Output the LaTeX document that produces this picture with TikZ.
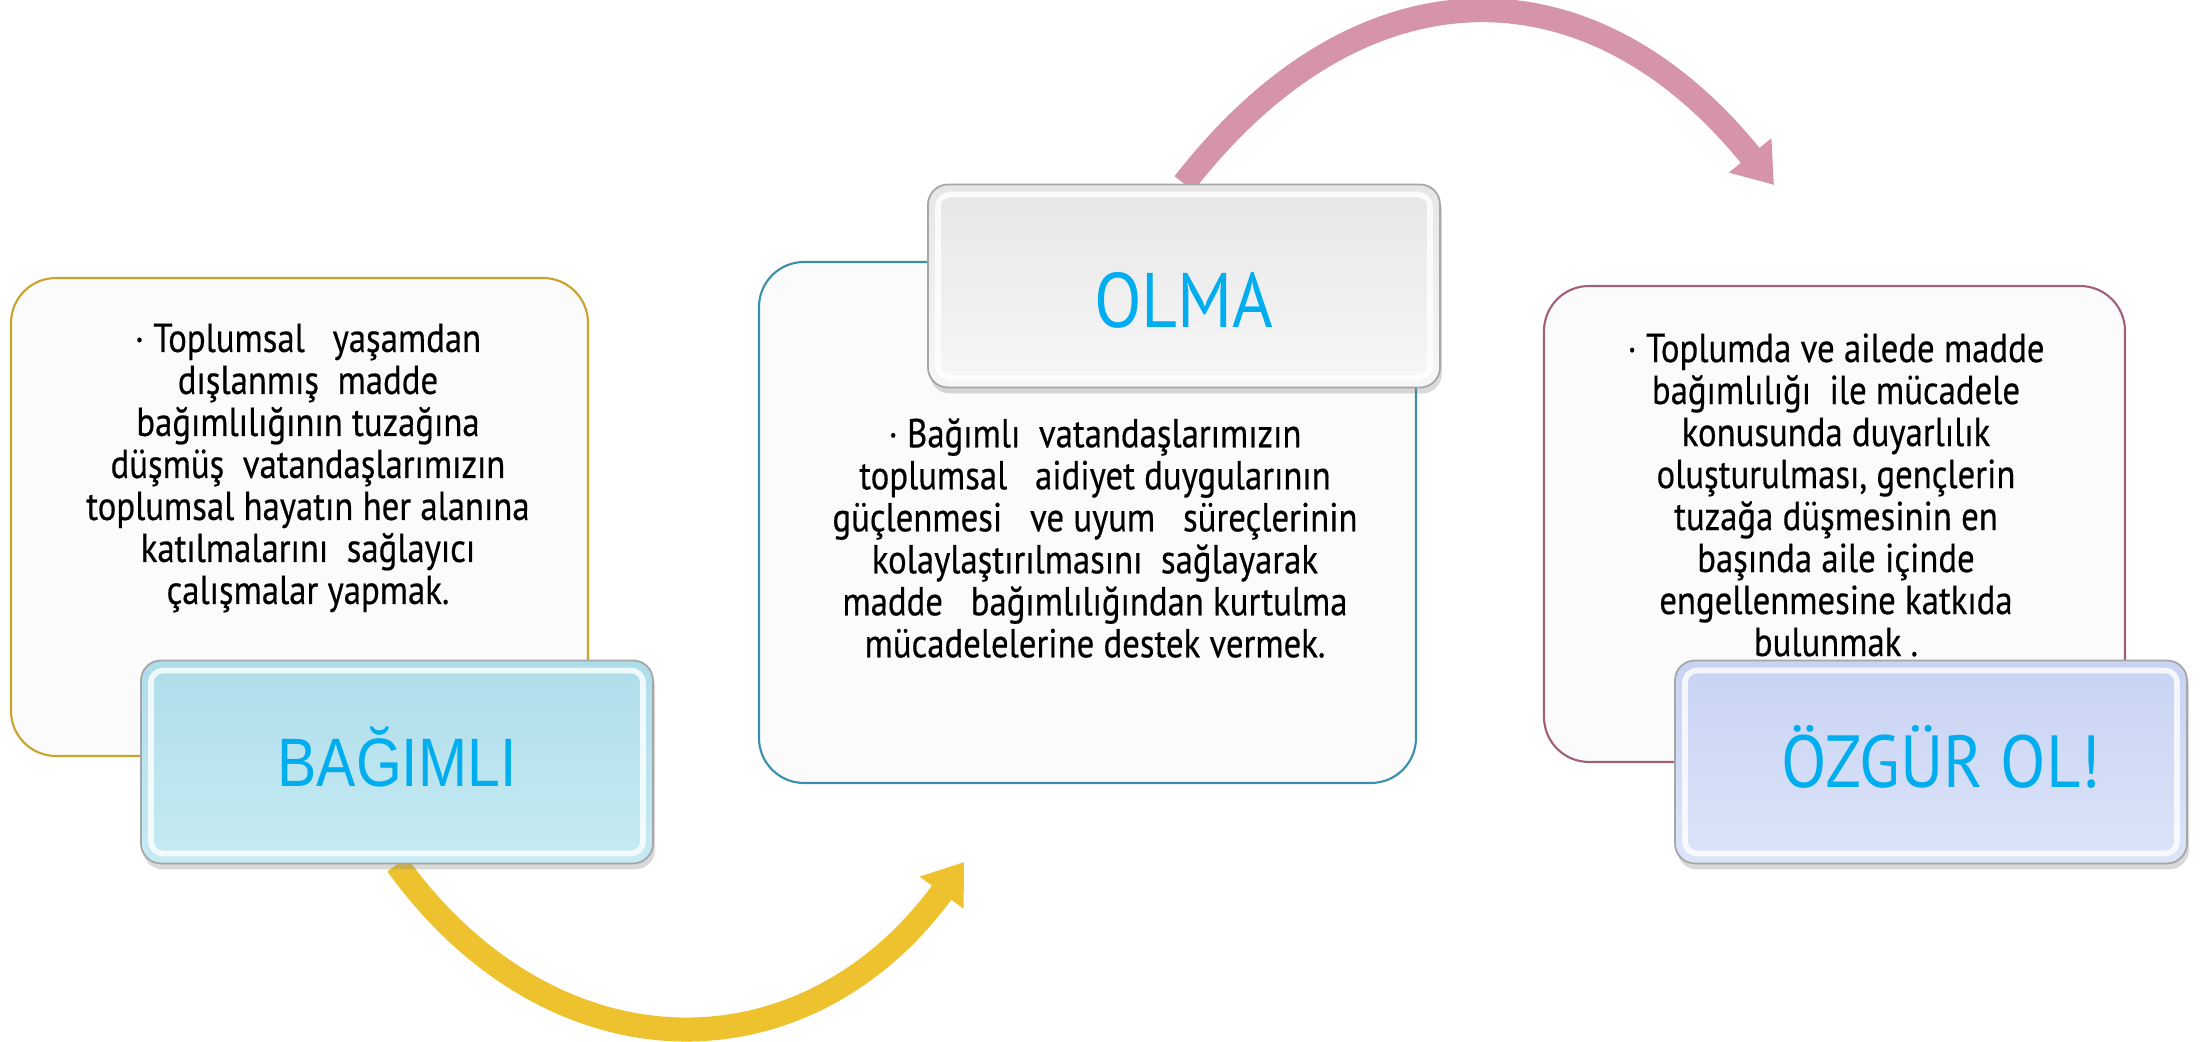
\documentclass[tikz,border=0pt]{standalone}
\usepackage{fontspec}
\setmainfont{PT Sans}
\newfontfamily\bodyfont[FakeStretch=0.86,FakeBold=0.4]{PT Sans}
\newfontfamily\capsfont[FakeStretch=0.86]{Liberation Sans}
\newfontfamily\tagfont[FakeStretch=0.9]{PT Sans}
\usetikzlibrary{arrows.meta,shadows}

\definecolor{goldline}{HTML}{C9A42C}
\definecolor{tealline}{HTML}{3A90AA}
\definecolor{mauveline}{HTML}{A45E7C}
\definecolor{panelfill}{HTML}{FBFBFB}
\definecolor{tagblue}{HTML}{00AEEF}
\definecolor{arrowyellow}{HTML}{EEC12E}
\definecolor{arrowpink}{HTML}{D594A9}
\definecolor{waterA}{HTML}{AEDDEA}
\definecolor{waterB}{HTML}{C6EBF3}
\definecolor{marbleA}{HTML}{E6E6E6}
\definecolor{marbleB}{HTML}{F7F7F7}
\definecolor{pastelA}{HTML}{C8D3F3}
\definecolor{pastelB}{HTML}{DCE4F8}

\pgfdeclarelayer{background}
\pgfsetlayers{background,main}

\begin{document}
\begin{tikzpicture}[
  panel/.style={rectangle, draw, line width=0.6pt, fill=panelfill, rounded corners=0.45cm},
  tag/.style={rectangle, draw=gray!70, line width=0.5pt, rounded corners=0.2cm,
    minimum width=5.12cm, minimum height=2.03cm, inner sep=0pt, text=tagblue,
    drop shadow={shadow xshift=0.02cm, shadow yshift=-0.06cm, opacity=0.3},
    path picture={\draw[white, opacity=0.8, line width=1.6pt, rounded corners=0.12cm]
      ([shift={(0.1,0.1)}]path picture bounding box.south west) rectangle
      ([shift={(-0.1,-0.1)}]path picture bounding box.north east);}},
  bodytext/.style={align=center, inner sep=0pt, font=\bodyfont\fontsize{11.5}{11.95}\selectfont},
  bend arrow/.style={line width=0.24cm, -{Triangle[width=0.52cm,length=0.38cm]}}
]
  \useasboundingbox (0,0) rectangle (22.01,10.42);

  % Panels with absolute positioning
  \node[panel, draw=goldline, minimum width=5.77cm, minimum height=4.78cm] (panelA) at (2.995,5.25) {};
  \node[panel, draw=tealline, minimum width=6.57cm, minimum height=5.21cm] (panelB) at (10.875,5.195) {};
  \node[panel, draw=mauveline, minimum width=5.81cm, minimum height=4.76cm] (panelC) at (18.345,5.18) {};

  % Panel texts
  \node[bodytext] (textA) at (3.08,5.74) {· Toplumsal~~ yaşamdan\\ dışlanmış~ madde\\ bağımlılığının tuzağına\\ düşmüş~ vatandaşlarımızın\\ toplumsal hayatın her alanına\\ katılmalarını~ sağlayıcı\\ çalışmalar yapmak.};
  \node[bodytext] (textB) at (10.95,5.04) {· Bağımlı~ vatandaşlarımızın\\ toplumsal~~ aidiyet duygularının\\ güçlenmesi~~ ve uyum~~ süreçlerinin\\ kolaylaştırılmasını~ sağlayarak\\ madde~~ bağımlılığından kurtulma\\ mücadelelerine destek vermek.};
  \node[bodytext] (textC) at (18.36,5.47) {· Toplumda ve ailede madde\\ bağımlılığı~ ile mücadele\\ konusunda duyarlılık\\ oluşturulması, gençlerin\\ tuzağa düşmesinin en\\ başında aile içinde\\ engellenmesine katkıda\\ bulunmak .};

  % Tags
  \node[tag, top color=waterA, bottom color=waterB, font=\capsfont\fontsize{19.5}{20}\selectfont,
    text height=0.49cm, text depth=0pt] (bagimli) at (3.97,2.80) {BAĞIMLI};
  \node[tag, top color=marbleA, bottom color=marbleB, font=\tagfont\fontsize{22}{24}\selectfont,
    text height=0.84cm, text depth=0pt] (olma) at (11.84,7.56) {OLMA};
  \node[tag, top color=pastelA, bottom color=pastelB, font=\tagfont\fontsize{21}{23}\selectfont,
    text height=0.52cm, text depth=0pt] (ozgur) at (19.31,2.80) {\hspace*{0.2cm}ÖZGÜR OL!};

  % Arrows
  \coordinate (ytip) at (9.64,1.80);
  \coordinate (ptip) at (17.74,8.57);
  \begin{pgfonlayer}{background}
    \draw[bend arrow, arrowyellow] (bagimli.south) .. controls (5.53,-0.38) and (8.05,-0.38) .. (ytip);
    \draw[bend arrow, arrowpink] (olma.north) .. controls (13.6,10.85) and (15.9,10.85) .. (ptip);
  \end{pgfonlayer}
\end{tikzpicture}
\end{document}
